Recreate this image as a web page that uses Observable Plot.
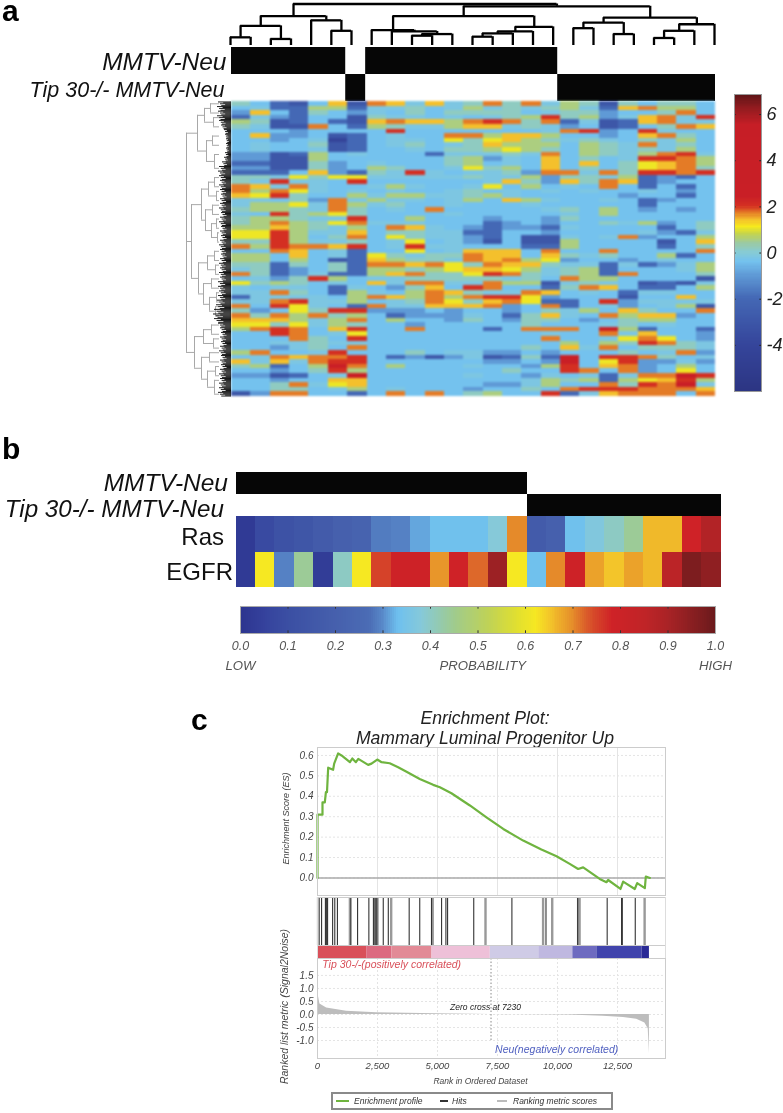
<!DOCTYPE html>
<html><head><meta charset="utf-8">
<script src="https://cdn.jsdelivr.net/npm/d3@7"></script>
<script src="https://cdn.jsdelivr.net/npm/@observablehq/plot@0.6"></script>
<style>
html,body{margin:0;background:#fff}
#root{position:relative;width:783px;height:1113px;overflow:hidden;font-family:"Liberation Sans",sans-serif;filter:blur(.75px)}
#root svg{position:absolute;background:transparent;overflow:visible}
.tag{position:absolute;font-weight:700;font-size:30px;line-height:20px;color:#000}
.ttl{position:absolute;left:270px;width:430px;text-align:center;font-style:italic;font-size:17.6px;color:#222;white-space:nowrap}
#lg{position:absolute;left:331px;top:1092px;width:278px;height:14px;border:2px solid #8a8a8a;font-size:8.5px;font-style:italic;color:#333;line-height:14px;background:#fff}
#lg span{position:absolute;top:0;white-space:nowrap}
#lg i{position:absolute;top:6px;height:1.5px;display:block}
</style></head><body><div id="root"></div>
<script>
// ---------- panel a data ----------
const heatLevels = {a:-4.2,b:-3,c:-2,d:-1,e:-0.4,f:-0.22,g:0.15,h:0.55,i:1.05,j:1.4,k:1.7,l:2.0,m:2.6};
const heatRows = [
"gecbejbkjfjfgkgkfhgbgegge","efcchhcffgefhfgfghfcjkhhe","djecgedfegeggggefggdeegke","cfdceebgffefefghlghdfjkfl",
"hgbcecbjkjjhklkgkcfbcjkff","gfbbkechgffhjjfgfdebcegkj","eeedeeeeleeeeeeefkldelfee","ejddebcefeekkhjjheedejkge",
"eedefaceffeigijhgfgfegfhe","efeegbcefgefgjhhhehgfkfge","efeefbceefegghihgehgfgfhe","ddbchefeeecfffgfkehgfhklf",
"ddbbheeeeeeghdfejegefllkh","ccbbgdefeeeghefejejegijkh","ddbbgdehgeefighejegegijkg","cccejdcgflfeffgdkkfkgllkl",
"ggfigiifffffgffhdggfhcdce","gflffeleeeeeefjgdjgkjcdee","kjfkfeefhfeefiehefekecece","khkifefefeefgefefefeefede",
"jilgeehfhhffghfeeeeedeece","ffegdkfhffefhejhfeefecdee","fhhifkhfgeefeeefeeeeeceee","ghhgfkgefekeeeeefgehedede",
"felghigeeeefeeeeefeheeeee","ghhgffleeheeedeedgeeeeeee","ghkhgikfffeeecdedeegfhdeg","hhjhgfhekjfedcddcfeeeeceg",
"iilhffjeggffcceedeeeefdcf","iilhegkeigffdcebbfefkdeeh","gglhffgefiefdbebbheeeebej","khlkkjleflffeeeccheeeeceg",
"eekjefceeiefjjjekeekeeeek","hhejefcigfggkjjejgfgeehce","hhehebcjhggfkjkhideedefee","ggcgegckkjkigkjjgffcfcdfh",
"fgcdegchhghijjihfghceeefh","kgcdfcchjkggilkgfghckeeeg","efdglheffgggggfgekhheeeeb","ighgefejfkkffkhhbfgfebcbf",
"feffecfedgjelkeecgkjecceh","ffkgechfehkjgffkjefecffee","cffffehkjhkhkllideeebeeje","ffklffhefgkigjkicceldffff",
"kelifeckffjjjkdekcefdefhb","gdeiglldddedeedegfhejgeek","kgkhkghecdddfecgjfekhjjde","jjjhfhkeheedgedggedeghhee",
"iigifhgeedeeeeegeeefgefee","hklkejleekeeecekkkemhceec","eelkefieeeeeeeeefeekfjeed","eeekgeleeeeeeeeekeefikied",
"eeffgffeeeeeeeeeehehglkgf","eedfgekeeeeeeeegejfkegggf","hkeefleeegeffddedeeegefkd","efkjkklecdbdfbcgcmellkgef",
"jfjfklleeeeeeddedmeilddfd","ghcehmkeheeefeedhlejkdehe","eedeglheeeeeeegeelkekdeie","ddbcefmeeeeefeedfefcfkkml",
"eedeejjeeeeeeeefhghchijlh","eegkfijeeeeeeddfheekglkmf","eeggefhefeeedeegeklllkkkj","bdkkeecekekegheelcfjkkkek"];
const annotStart = [0,6.93];
const annotEnd = [5.9,16.85];
const annotTipStart = [5.9,16.85];
const annotTipEnd = [6.93,25];
const colTree = [127,[90,[60,[25,0,1],[20,2,3]],[77,4,[45,5,6]]],
  [120,[90,[47,7,[43,8,[35,[30,9,10],11]]],[57,[43,[37,[27,12,13],14],15],16]],
       [85,[70,[53,17,18],[35,19,20]],[65,[45,[23,21,22],23],24]]]];
const rowTree = [45,
  [34,[27,[21,0,2],[18,3,5]],[25,[19,7,9],[17,11,14]]],
  [40,[30,[23,[17,16,18],[15,19,21]],[26,[19,22,24],[20,[15,25,27],[14,28,30]]]],
      [33,[24,[17,32,34],[16,35,37]],[28,[20,38,40],[22,[15,41,43],[16,44,46]]]]],
  [37,[28,[20,48,50],[18,51,53]],[30,[22,54,56],[24,[16,57,59],[17,60,63]]]]];
const rowTipDepth = [13,14,13,14,12,10,7,6,5,5,5,6,7,9,12,13,12,11,12,11,10,11,11,12,10,11,12,10,11,10,11,12,
  11,10,11,12,11,12,11,13,13,12,13,14,15,17,18,17,13,11,10,11,10,11,12,10,11,10,11,12,11,12,12,13];
const tipFractions = [0.1,0.3,0.5,0.7,0.9];
const tipReach = [1,0.6,0.85,0.45,0.75];
const heatStops = [-6,-4,-2,-1,-0.4,0,0.4,0.8,1.1,1.4,1.7,2,2.4,5.5,6.3,6.87];
const heatColors = ["#2c3583","#35459b","#4468b5","#5f9ad6","#74c2ee","#87cbd4","#9ccaa0","#c6d44a","#f6ea1c","#f4c02c","#e47b26","#d42f22","#c91f26","#c61e26","#8e1b1f","#5a1416"];
const heatTicks = [-4,-2,0,2,4,6];
// ---------- panel b data ----------
const groupB = [1,1,1,1,1,1,1,1,1,1,1,1,1,1,1,0,0,0,0,0,0,0,0,0,0];
const rasProb = [.02,.08,.12,.14,.17,.2,.22,.285,.29,.315,.335,.335,.335,.38,.70,.17,.2,.335,.37,.4,.44,.66,.66,.78,.88];
const egfrProb = [.02,.62,.29,.44,.03,.4,.62,.75,.79,.79,.69,.78,.72,.92,.62,.335,.70,.79,.68,.65,.68,.66,.86,.97,.94];
const probStops = [0,.05,.1,.2,.27,.3,.33,.38,.45,.52,.58,.62,.65,.7,.73,.78,.85,.9,1];
const probColors = ["#2d358f","#35429d","#3b4fa3","#4660ad","#4b6cb5","#5a8ccb","#6ec0ef","#86c9d9","#a0cb8c","#bfd257","#e0df30","#f6e822","#f3c52a","#e58a2a","#d9572a","#cf2227","#c02427","#a82326","#6a1a1c"];
const probTicks = [0,.1,.2,.3,.4,.5,.6,.7,.8,.9,1];
// ---------- panel c data ----------
const esRank = [0,0,208,208,305,350,395,445,650,695,860,1000,1350,1450,1600,1700,2110,2250,2490,2670,3010,3360,3710,4260,4820,5100,5580,6350,7040,7740,8570,9330,9960,10510,10860,11070,11760,12040,12110,12625,12735,13220,13320,13640,13680,13850];
const esScore = [0,.31,.31,.37,.37,.42,.42,.54,.53,.56,.61,.60,.567,.585,.567,.583,.554,.56,.58,.567,.562,.542,.52,.485,.456,.444,.415,.355,.297,.24,.183,.139,.106,.069,.044,.052,-.005,-.021,-.01,-.054,-.018,-.054,-.025,-.05,.007,0];
const hitsDark = [0,70,170,330,370,420,630,720,830,1390,1670,2140,2330,2400,2470,2740,2950,3820,4260,4750,5350,5420,5170,6510,8100,9520,10840,12070,12670,12700,13240];
const hitsLight = [4800,7000,9400,9780,10860,10920,13630,1350,2400,2500,3070];
const barStart = [0,2050,3100,4770,7200,9220,10640,11640,13520];
const barEnd = [2050,3100,4770,7200,9220,10640,11640,13520,13830];
const barColor = ["#d9505a","#dc6a80","#e28a96","#eec0d8","#cfcbe6","#bfb8e0","#6e6bc0","#4144ac","#2a2a96"];
const metricRank = [0,30,100,380,1210,2460,4960,7180,10500,11900,12750,13300,13640,13780,13830];
const metricValue = [1.3,.75,.4,.25,.12,.07,.03,0,-.02,-.07,-.12,-.18,-.33,-.55,-1.5];
const rankTicks = [0,2500,5000,7500,10000,12500];
const esTicks = [0,.1,.2,.3,.4,.5,.6];
const metricTicks = [-1,-.5,0,.5,1,1.5];

// ---------- helpers ----------
const root = document.getElementById("root");
const font = '"Liberation Sans",sans-serif';
function place(opts, left, top){
  const p = Plot.plot({style:{fontFamily:font,background:"transparent",overflow:"visible"},...opts});
  p.style.left = left+"px"; p.style.top = top+"px"; root.appendChild(p); return p;
}
function tag(t,x,y){const d=document.createElement("div");d.className="tag";d.textContent=t;d.style.left=x+"px";d.style.top=y+"px";root.appendChild(d);}
function walkCol(node,segs){
  if(typeof node==="number") return [node,0];
  const [h,a,b]=node, A=walkCol(a,segs), B=walkCol(b,segs);
  segs.h.push({x1:A[0],x2:B[0],y:h});
  segs.v.push({x:A[0],y1:A[1],y2:h},{x:B[0],y1:B[1],y2:h});
  return [(A[0]+B[0])/2,h];
}
function walkRow(node,segs){
  if(typeof node==="number") return [node+.5,12];
  const [d,...kids]=node, K=kids.map(k=>walkRow(k,segs));
  segs.v.push({y1:K[0][0],y2:K[K.length-1][0],x:d});
  K.forEach(k=>segs.h.push({y:k[0],x1:k[1],x2:d}));
  return [(K[0][0]+K[K.length-1][0])/2,d];
}
const heatScale = {type:"linear",domain:heatStops,range:heatColors};
const probScale = {type:"linear",domain:probStops,range:probColors};
const cols = d3.range(25);

// ---------- panel a ----------
tag("a",2,1);
const colSegs={h:[],v:[]}; walkCol(colTree,colSegs);
place({width:500,height:46,marginLeft:8,marginRight:8,marginTop:1,marginBottom:1,
  x:{domain:[0,24],range:[8,492],axis:null},y:{domain:[0,127],range:[44,2.5],axis:null},
  marks:[Plot.ruleY(colSegs.h,{x1:"x1",x2:"x2",y:"y",stroke:"#000",strokeWidth:2.3}),
         Plot.ruleX(colSegs.v,{x:"x",y1:"y1",y2:"y2",stroke:"#000",strokeWidth:2.3})]},222,1);
const aNames=["MMTV-Neu","Tip 30-/- MMTV-Neu"];
place({width:715,height:54,marginLeft:231,marginRight:0,marginTop:0,marginBottom:0,
  x:{domain:[0,25],axis:null},y:{domain:aNames,axis:null,round:false,padding:0},
  marks:[Plot.barX(annotStart.map((s,i)=>({s,e:annotEnd[i]})),{x1:"s",x2:"e",y:()=>aNames[0],fill:"#060606"}),
    Plot.barX(annotTipStart.map((s,i)=>({s,e:annotTipEnd[i]})),{x1:"s",x2:"e",y:()=>aNames[1],fill:"#060606"}),
    Plot.text([aNames[0]],{y:d=>d,frameAnchor:"left",textAnchor:"end",dx:-5,dy:1,fontSize:24.5,fontStyle:"italic",fill:"#111"}),
    Plot.text([aNames[1]],{y:d=>d,frameAnchor:"left",textAnchor:"end",dx:-7,dy:2,fontSize:21.5,fontStyle:"italic",fill:"#111"})]},0,47);
const heatCells=heatRows.flatMap((s,r)=>cols.map(c=>({r,c,v:heatLevels[s[c]]})));
const hp=place({width:484,height:295,margin:0,color:heatScale,
  x:{domain:cols,axis:null,round:false,padding:0},y:{domain:d3.range(heatRows.length),axis:null,round:false,padding:0},
  marks:[Plot.cell(heatCells,{x:"c",y:"r",fill:"v",shapeRendering:"crispEdges"})]},231,101);
hp.style.filter="blur(.8px)";
const rowSegs={h:[],v:[]}; walkRow(rowTree,rowSegs);
const tips=rowTipDepth.flatMap((d,r)=>tipFractions.map((f,i)=>({y:r+f,x:d*tipReach[i]})));
place({width:49,height:295,margin:0,
  x:{domain:[49,0],range:[0,49],axis:null},y:{domain:[0,64],range:[0,295],axis:null},
  marks:[Plot.ruleY(rowSegs.h,{x1:"x1",x2:"x2",y:"y",stroke:"#a8a8a8",strokeWidth:1}),
    Plot.ruleX(rowSegs.v,{x:"x",y1:"y1",y2:"y2",stroke:"#a8a8a8",strokeWidth:1}),
    Plot.ruleY(tips,{x1:0,x2:"x",y:"y",stroke:"#000",strokeWidth:.9})]},182,101);
place({width:58,height:297,marginLeft:9,marginRight:22,marginTop:0,marginBottom:0,color:heatScale,
  x:{domain:[0,1],axis:null},y:{domain:[-6,6.87],axis:null},
  marks:[Plot.rect(d3.range(-6,6.87,.05),{y1:d=>d,y2:d=>Math.min(d+.08,6.87),x1:0,x2:1,fill:d=>d,shapeRendering:"crispEdges"}),
    Plot.ruleY(heatTicks,{y:d=>d,x1:.94,x2:1,stroke:"#222"}),
    Plot.ruleY(heatTicks,{y:d=>d,x1:0,x2:.06,stroke:"#222"}),
    Plot.axisY(heatTicks,{anchor:"right",label:null,tickSize:0,tickPadding:5,fontSize:18,fontStyle:"italic",fill:"#222",tickFormat:d=>String(d)}),
    Plot.frame({stroke:"#999"})]},725,94);

// ---------- panel b ----------
tag("b",2,439);
const bNames=["MMTV-Neu","Tip 30-/- MMTV-Neu"];
const bCells=cols.map(c=>({c,r:bNames[groupB[c]?0:1]}));
place({width:720.5,height:44,marginLeft:235.5,marginRight:0,marginTop:0,marginBottom:0,
  x:{domain:cols,axis:null,round:false,padding:0},y:{domain:bNames,axis:null,round:false,padding:0},
  marks:[Plot.cell(bCells,{x:"c",y:"r",fill:"#060606",shapeRendering:"crispEdges"}),
    Plot.text([bNames[0]],{y:d=>d,frameAnchor:"left",textAnchor:"end",dx:-8,fontSize:24.5,fontStyle:"italic",fill:"#111"}),
    Plot.text([bNames[1]],{y:d=>d,frameAnchor:"left",textAnchor:"end",dx:-12,dy:4,fontSize:24.2,fontStyle:"italic",fill:"#111"})]},0,472);
const probNames=["Ras","EGFR"];
const probCells=cols.flatMap(c=>[{c,r:"Ras",v:rasProb[c]},{c,r:"EGFR",v:egfrProb[c]}]);
place({width:720.5,height:71,marginLeft:235.5,marginRight:0,marginTop:0,marginBottom:0,color:probScale,
  x:{domain:cols,axis:null,round:false,padding:0},y:{domain:probNames,axis:null,round:false,padding:0},
  marks:[Plot.cell(probCells,{x:"c",y:"r",fill:"v",shapeRendering:"crispEdges"}),
    Plot.text(["Ras"],{y:d=>d,frameAnchor:"left",textAnchor:"end",dx:-12,dy:3,fontSize:24,fill:"#111"}),
    Plot.text(["EGFR"],{y:d=>d,frameAnchor:"left",textAnchor:"end",dx:-3,dy:3,fontSize:24,fill:"#111"})]},0,516);
place({width:520,height:70,marginLeft:20,marginRight:25,marginTop:0,marginBottom:43,color:probScale,
  x:{domain:[0,1],axis:null},y:{domain:[0,1],axis:null},
  marks:[Plot.rect(d3.range(0,1,.004),{x1:d=>d,x2:d=>Math.min(d+.006,1),y1:0,y2:1,fill:d=>d,shapeRendering:"crispEdges"}),
    Plot.ruleX(probTicks,{x:d=>d,y1:.9,y2:1,stroke:"#333"}),
    Plot.ruleX(probTicks,{x:d=>d,y1:0,y2:.1,stroke:"#333"}),
    Plot.axisX(probTicks,{anchor:"bottom",label:null,tickSize:0,tickPadding:8,fontSize:12.5,fontStyle:"italic",fill:"#555",tickFormat:d=>d.toFixed(1)}),
    Plot.text([0,.51,1],{x:d=>d,frameAnchor:"bottom",dy:36,text:d=>d===0?"LOW":d===1?"HIGH":"PROBABILITY",fontSize:13.2,fontStyle:"italic",fill:"#555"}),
    Plot.frame({stroke:"#aaa"})]},220,606);

// ---------- panel c ----------
tag("c",191,710);
[["Enrichment Plot:",708],["Mammary Luminal Progenitor Up",728]].forEach(([t,y])=>{
  const d=document.createElement("div");d.className="ttl";d.textContent=t;d.style.top=y+"px";root.appendChild(d);});
const xC={domain:[0,14500],range:[47,395],axis:null};
const grid="#e4e4e4";
const axisFont={fontSize:10,fontStyle:"italic",fill:"#444"};
place({width:395,height:148,marginLeft:47,marginRight:0,marginTop:0,marginBottom:0,
  x:xC,y:{domain:[-.086,.639],axis:null},
  marks:[Plot.gridX(rankTicks,{stroke:grid,strokeOpacity:1}),Plot.gridY(esTicks,{stroke:grid,strokeOpacity:1,strokeDasharray:"2,2"}),
    Plot.ruleY([0],{stroke:"#aaa",strokeWidth:1.5}),
    Plot.line(esRank.map((r,i)=>({r,s:esScore[i]})),{x:"r",y:"s",stroke:"#6fb43f",strokeWidth:2.2}),
    Plot.axisY(esTicks,{anchor:"left",label:null,tickSize:0,tickPadding:4,tickFormat:d=>d.toFixed(1),...axisFont}),
    Plot.text(["Enrichment Score (ES)"],{frameAnchor:"left",textAnchor:"middle",rotate:-90,dx:-31,dy:-3,fontSize:9,fontStyle:"italic",fill:"#444"}),
    Plot.frame({stroke:"#ccc"})]},270,747);
const barRows=barStart.map((s,i)=>({s,e:barEnd[i],c:barColor[i]}));
place({width:395,height:62,marginLeft:47,marginRight:0,marginTop:0,marginBottom:0,
  x:xC,y:{domain:[0,62],range:[62,0],axis:null},
  marks:[Plot.ruleX(hitsLight,{x:d=>d,y1:13,y2:61,stroke:"#999",strokeWidth:2.4}),
    Plot.ruleX(hitsDark,{x:d=>d,y1:13,y2:61,stroke:"#333",strokeWidth:1.1}),
    Plot.rect(barRows,{x1:"s",x2:"e",y1:0,y2:12,fill:"c"}),
    Plot.ruleY([13,61],{stroke:"#ccc"}),
    Plot.ruleX([0,14500],{y1:0,y2:61,stroke:"#ddd"})]},270,896);
place({width:395,height:130,marginLeft:47,marginRight:0,marginTop:0,marginBottom:30,
  x:xC,y:{domain:[-1.69,2.15],axis:null},
  marks:[Plot.gridX(rankTicks,{stroke:grid,strokeOpacity:1,strokeDasharray:"2,2"}),Plot.gridY(metricTicks,{stroke:grid,strokeOpacity:1,strokeDasharray:"2,2"}),
    Plot.areaY(metricRank.map((r,i)=>({r,v:metricValue[i]})),{x:"r",y1:()=>0,y2:"v",fill:"#bdbdbd"}),
    Plot.ruleX([7230],{y1:-1,y2:2.15,stroke:"#888",strokeDasharray:"1.5,2"}),
    Plot.text(["Zero cross at 7230"],{x:7000,y:.26,fontSize:8.5,fontStyle:"italic",fill:"#222"}),
    Plot.text(["Tip 30-/-(positively correlated)"],{x:200,y:1.9,textAnchor:"start",fontSize:10.5,fontStyle:"italic",fill:"#d9505a"}),
    Plot.text(["Neu(negatively correlated)"],{x:7400,y:-1.35,textAnchor:"start",fontSize:10.5,fontStyle:"italic",fill:"#5060c0"}),
    Plot.axisY(metricTicks,{anchor:"left",label:null,tickSize:0,tickPadding:4,tickFormat:d=>d.toFixed(1),...axisFont}),
    Plot.axisX(rankTicks,{anchor:"bottom",label:null,tickSize:0,tickPadding:4,tickFormat:d3.format(","),fontSize:9.5,fontStyle:"italic",fill:"#444"}),
    Plot.text(["Rank in Ordered Dataset"],{frameAnchor:"bottom",dy:25,dx:-11,fontSize:8.5,fontStyle:"italic",fill:"#444"}),
    Plot.text(["Ranked list metric (Signal2Noise)"],{frameAnchor:"left",textAnchor:"middle",rotate:-90,dx:-33,dy:-2,fontSize:10.5,fontStyle:"italic",fill:"#444"}),
    Plot.frame({stroke:"#ccc"})]},270,958);
const lg=document.createElement("div");lg.id="lg";
lg.innerHTML='<i style="left:3px;width:13px;background:#6fb43f"></i><span style="left:21px">Enrichment profile</span><i style="left:107px;width:8px;background:#333"></i><span style="left:119px">Hits</span><i style="left:164px;width:10px;background:#bbb"></i><span style="left:180px">Ranking metric scores</span>';
root.appendChild(lg);
</script></body></html>
